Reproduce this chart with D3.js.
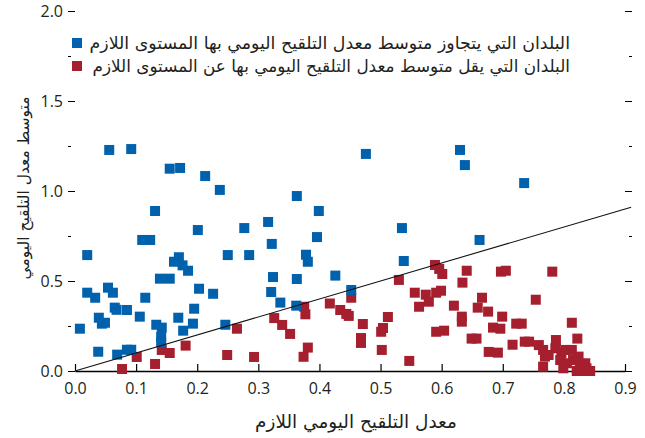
<!DOCTYPE html>
<html lang="ar">

<head>
    <meta charset="UTF-8">
    <title>Vaccination scatter</title>
    <script src="https://cdn.jsdelivr.net/npm/d3@7"></script>
    <style>
        body {
            margin: 0;
            background: white;
        }

        .tick text {
            font-family: 'Open Sans', sans-serif;
            font-size: 16px;
            fill: #231f20;
        }

        .arabic {
            font-family: 'DejaVu Sans', sans-serif;
            fill: #231f20;
        }
    </style>
</head>

<body>
    <div id="chart"></div>

    <script>
        // ---- data ----
        // countries whose mean daily vaccination rate is above the needed level
        const aboveCountries = [
            [0.056, 1.228], [0.092, 1.233], [0.155, 1.124], [0.172, 1.128], [0.213, 1.083],
            [0.237, 1.006], [0.131, 0.889], [0.201, 0.783], [0.110, 0.728], [0.123, 0.728],
            [0.277, 0.794], [0.020, 0.644], [0.250, 0.644], [0.285, 0.644], [0.476, 1.206],
            [0.363, 0.972], [0.399, 0.889], [0.316, 0.828], [0.535, 0.794], [0.396, 0.744],
            [0.322, 0.706], [0.378, 0.646], [0.381, 0.607], [0.630, 1.228], [0.638, 1.144],
            [0.735, 1.044], [0.662, 0.728], [0.162, 0.607], [0.170, 0.632], [0.176, 0.587],
            [0.185, 0.557], [0.139, 0.513], [0.155, 0.513], [0.203, 0.457], [0.226, 0.429],
            [0.020, 0.435], [0.033, 0.407], [0.054, 0.463], [0.062, 0.435], [0.115, 0.407],
            [0.065, 0.352], [0.068, 0.340], [0.085, 0.339], [0.039, 0.296], [0.044, 0.263],
            [0.049, 0.268], [0.106, 0.302], [0.008, 0.235], [0.133, 0.257], [0.142, 0.241],
            [0.141, 0.190], [0.141, 0.160], [0.169, 0.296], [0.195, 0.346], [0.193, 0.263],
            [0.177, 0.224], [0.246, 0.257], [0.038, 0.107], [0.069, 0.091], [0.085, 0.118],
            [0.092, 0.118], [0.324, 0.522], [0.363, 0.511], [0.426, 0.530], [0.538, 0.611],
            [0.321, 0.439], [0.336, 0.380], [0.362, 0.363], [0.452, 0.450]
        ];

        // countries whose mean daily vaccination rate is below the needed level
        const belowCountries = [
            [0.265, 0.235], [0.181, 0.141], [0.249, 0.089], [0.293, 0.078], [0.131, 0.039],
            [0.077, 0.011], [0.101, 0.078], [0.142, 0.117], [0.155, 0.100], [0.326, 0.294],
            [0.339, 0.256], [0.352, 0.206], [0.375, 0.357], [0.377, 0.315], [0.381, 0.130],
            [0.374, 0.079], [0.417, 0.375], [0.434, 0.339], [0.444, 0.317], [0.448, 0.306],
            [0.452, 0.407], [0.471, 0.261], [0.468, 0.183], [0.468, 0.156], [0.501, 0.218],
            [0.504, 0.239], [0.512, 0.300], [0.502, 0.117], [0.530, 0.506], [0.547, 0.056],
            [0.556, 0.435], [0.563, 0.357], [0.574, 0.424], [0.579, 0.385], [0.589, 0.589],
            [0.596, 0.567], [0.601, 0.539], [0.591, 0.435], [0.599, 0.446], [0.591, 0.218],
            [0.604, 0.224], [0.641, 0.557], [0.634, 0.491], [0.697, 0.552], [0.705, 0.557],
            [0.781, 0.552], [0.666, 0.407], [0.620, 0.363], [0.659, 0.352], [0.676, 0.330],
            [0.754, 0.396], [0.633, 0.302], [0.633, 0.274], [0.699, 0.302], [0.684, 0.241],
            [0.696, 0.235], [0.722, 0.263], [0.731, 0.263], [0.813, 0.268], [0.649, 0.180],
            [0.657, 0.180], [0.716, 0.146], [0.736, 0.163], [0.743, 0.163], [0.822, 0.180],
            [0.787, 0.172], [0.677, 0.106], [0.692, 0.102], [0.759, 0.144], [0.766, 0.117],
            [0.769, 0.080], [0.766, 0.024], [0.775, 0.089], [0.786, 0.126], [0.796, 0.098],
            [0.802, 0.117], [0.813, 0.117], [0.794, 0.061], [0.805, 0.043], [0.799, 0.015],
            [0.815, 0.061], [0.824, 0.080], [0.826, 0.033], [0.835, 0.043], [0.837, 0.015],
            [0.843, 0.000], [0.821, 0.000], [0.829, 0.000]
        ];

        // reference line y = x
        const fitLine = [[0, 0], [0.91, 0.91]];

        const xTicks = [0, 0.1, 0.2, 0.3, 0.4, 0.5, 0.6, 0.7, 0.8, 0.9];
        const yTicks = [0, 0.5, 1.0, 1.5, 2.0];
        const yMinorTicks = [0.25, 0.75, 1.25, 1.75];

        const legendLabels = [
            "البلدان التي يتجاوز متوسط معدل التلقيح اليومي بها المستوى اللازم",
            "البلدان التي يقل متوسط معدل التلقيح اليومي بها عن المستوى اللازم"
        ];
        const xTitle = "معدل التلقيح اليومي اللازم";
        const yTitle = "متوسط معدل التلقيح اليومي";

        const colors = { above: "#0061ad", below: "#a51f2e" };

        // ---- layout ----
        const width = 645, height = 438;
        const plot = { left: 75, right: 625, top: 11, bottom: 371 };
        const markSize = 10;

        const svg = d3.select("#chart").append("svg")
            .attr("width", width)
            .attr("height", height);

        const x = d3.scaleLinear().domain([0, 0.9]).range([plot.left, plot.right]);
        const y = d3.scaleLinear().domain([0, 2.0]).range([plot.bottom, plot.top]);

        // size an arabic label so it spans about the same width as in the source
        function fitWidth(sel, target) {
            sel.style("font-size", "15px");
            const w = sel.node().getComputedTextLength();
            sel.style("font-size", (15 * target / w).toFixed(2) + "px");
        }

        // left axis: major ticks + short minor ticks at outer end
        const yLeft = svg.append("g")
            .attr("transform", `translate(${plot.left},0)`)
            .call(d3.axisLeft(y).tickValues(yTicks).tickSize(7).tickPadding(5).tickFormat(d3.format(".1f")));
        yLeft.select(".domain").remove();

        const yLeftMinor = svg.append("g")
            .attr("transform", `translate(${plot.left - 7},0)`)
            .call(d3.axisRight(y).tickValues(yMinorTicks).tickSize(3).tickFormat(""));
        yLeftMinor.select(".domain").remove();

        // right side ticks, no labels
        const yRight = svg.append("g")
            .attr("transform", `translate(${plot.right},0)`)
            .call(d3.axisRight(y).tickValues(yTicks).tickSize(7).tickFormat(""));
        yRight.select(".domain").remove();

        const yRightMinor = svg.append("g")
            .attr("transform", `translate(${plot.right + 7},0)`)
            .call(d3.axisLeft(y).tickValues(yMinorTicks).tickSize(3).tickFormat(""));
        yRightMinor.select(".domain").remove();

        // x axis, ticks pointing up into the plot
        const xAxis = svg.append("g")
            .attr("transform", `translate(0,${plot.bottom})`)
            .call(d3.axisBottom(x).tickValues(xTicks).tickSizeInner(-7).tickSizeOuter(0)
                .tickPadding(12).tickFormat(d3.format(".1f")));
        xAxis.select(".domain").attr("stroke-width", 1.6);
        xAxis.selectAll(".tick line").attr("stroke-width", 1.2);

        // points
        svg.append("g").selectAll("rect")
            .data(belowCountries)
            .enter().append("rect")
            .attr("x", d => x(d[0]) - markSize / 2)
            .attr("y", d => y(d[1]) - markSize / 2)
            .attr("width", markSize)
            .attr("height", markSize)
            .attr("fill", colors.below);

        svg.append("g").selectAll("rect")
            .data(aboveCountries)
            .enter().append("rect")
            .attr("x", d => x(d[0]) - markSize / 2)
            .attr("y", d => y(d[1]) - markSize / 2)
            .attr("width", markSize)
            .attr("height", markSize)
            .attr("fill", colors.above);

        // y = x line
        svg.append("path")
            .datum(fitLine)
            .attr("d", d3.line().x(d => x(d[0])).y(d => y(d[1])))
            .attr("fill", "none")
            .attr("stroke", "#111")
            .attr("stroke-width", 1.1);

        // legend
        const legend = svg.append("g");
        [colors.above, colors.below].forEach((c, i) => {
            const cy = 43 + i * 23;
            legend.append("rect")
                .attr("x", 72).attr("y", cy - 5)
                .attr("width", 10).attr("height", 10)
                .attr("fill", c);
            const t = legend.append("text")
                .attr("class", "arabic")
                .attr("x", 570).attr("y", cy + 6)
                .attr("text-anchor", "end")
                .text(legendLabels[i]);
            fitWidth(t, i === 0 ? 481 : 478);
        });

        // axis titles
        const xt = svg.append("text")
            .attr("class", "arabic")
            .attr("x", 356).attr("y", 428)
            .attr("text-anchor", "middle")
            .text(xTitle);
        fitWidth(xt, 202);

        const yt = svg.append("text")
            .attr("class", "arabic")
            .attr("transform", "translate(29,188) rotate(-90)")
            .attr("text-anchor", "middle")
            .text(yTitle);
        fitWidth(yt, 183);
    </script>
</body>

</html>
